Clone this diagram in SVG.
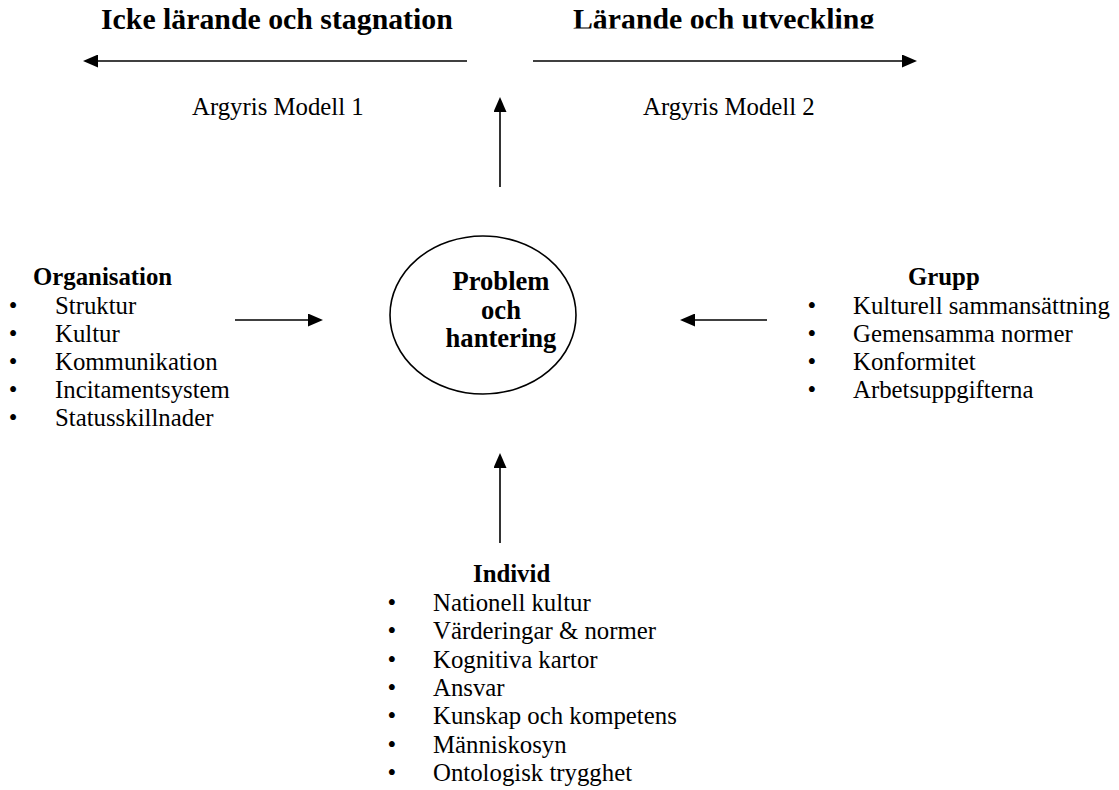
<svg xmlns="http://www.w3.org/2000/svg" width="1119" height="790" viewBox="0 0 1119 790">
<style>
text{font-family:"Liberation Serif","Times New Roman",serif;fill:#000}
.h{font-size:29.8px;font-weight:bold}
.b{font-size:24.8px}
.bb{font-size:24.8px;font-weight:bold}
.p{font-size:26.6px;font-weight:bold}
.ln{stroke:#000;stroke-width:1.6;fill:none;marker-end:url(#ah)}
</style>
<defs>
<marker id="ah" viewBox="0 0 15 13" refX="12" refY="6.5" markerWidth="15" markerHeight="13" markerUnits="userSpaceOnUse" orient="auto">
<path d="M0,0 L15,6.5 L0,13 z" fill="#000"/>
</marker>
<clipPath id="clipR"><rect x="550" y="0" width="360" height="28.5"/></clipPath>
</defs>
<rect width="1119" height="790" fill="#fff"/>
<g id="heading-left"><text class="h" x="101" y="29">Icke lärande och stagnation</text></g>
<g id="heading-right" clip-path="url(#clipR)"><text class="h" x="573" y="29">Lärande och utveckling</text></g>
<g id="label-model1"><text class="b" x="192" y="115">Argyris Modell 1</text></g>
<g id="label-model2"><text class="b" x="643" y="115">Argyris Modell 2</text></g>
<g id="center">
<ellipse cx="483" cy="315" rx="93" ry="79" fill="none" stroke="#000" stroke-width="1.6"/>
<text class="p" text-anchor="middle" x="501" y="290">Problem</text>
<text class="p" text-anchor="middle" x="501" y="318.5">och</text>
<text class="p" text-anchor="middle" x="501" y="347">hantering</text>
</g>
<g id="organisation">
<text class="bb" x="33" y="285">Organisation</text>
<text class="b" x="8.7" y="314">•</text><text class="b" x="55" y="314">Struktur</text>
<text class="b" x="8.7" y="342">•</text><text class="b" x="55" y="342">Kultur</text>
<text class="b" x="8.7" y="370">•</text><text class="b" x="55" y="370">Kommunikation</text>
<text class="b" x="8.7" y="398">•</text><text class="b" x="55" y="398">Incitamentsystem</text>
<text class="b" x="8.7" y="426">•</text><text class="b" x="55" y="426">Statusskillnader</text>
</g>
<g id="grupp">
<text class="bb" x="908" y="285">Grupp</text>
<text class="b" x="807.6" y="314">•</text><text class="b" x="853" y="314">Kulturell sammansättning</text>
<text class="b" x="807.6" y="342">•</text><text class="b" x="853" y="342">Gemensamma normer</text>
<text class="b" x="807.6" y="370">•</text><text class="b" x="853" y="370">Konformitet</text>
<text class="b" x="807.6" y="398">•</text><text class="b" x="853" y="398">Arbetsuppgifterna</text>
</g>
<g id="individ">
<text class="bb" x="473" y="582">Individ</text>
<text class="b" x="387.6" y="611">•</text><text class="b" x="433" y="611">Nationell kultur</text>
<text class="b" x="387.6" y="639">•</text><text class="b" x="433" y="639">Värderingar &amp; normer</text>
<text class="b" x="387.6" y="668">•</text><text class="b" x="433" y="668">Kognitiva kartor</text>
<text class="b" x="387.6" y="696">•</text><text class="b" x="433" y="696">Ansvar</text>
<text class="b" x="387.6" y="724">•</text><text class="b" x="433" y="724">Kunskap och kompetens</text>
<text class="b" x="387.6" y="753">•</text><text class="b" x="433" y="753">Människosyn</text>
<text class="b" x="387.6" y="781">•</text><text class="b" x="433" y="781">Ontologisk trygghet</text>
</g>
<g id="connectors">
<line class="ln" x1="467" y1="61" x2="86" y2="61"/>
<line class="ln" x1="533" y1="61" x2="914" y2="61"/>
<line class="ln" x1="500" y1="187" x2="500" y2="100"/>
<line class="ln" x1="235" y1="320" x2="320" y2="320"/>
<line class="ln" x1="767" y1="320" x2="683" y2="320"/>
<line class="ln" x1="500" y1="543" x2="500" y2="456"/>
</g>
</svg>
